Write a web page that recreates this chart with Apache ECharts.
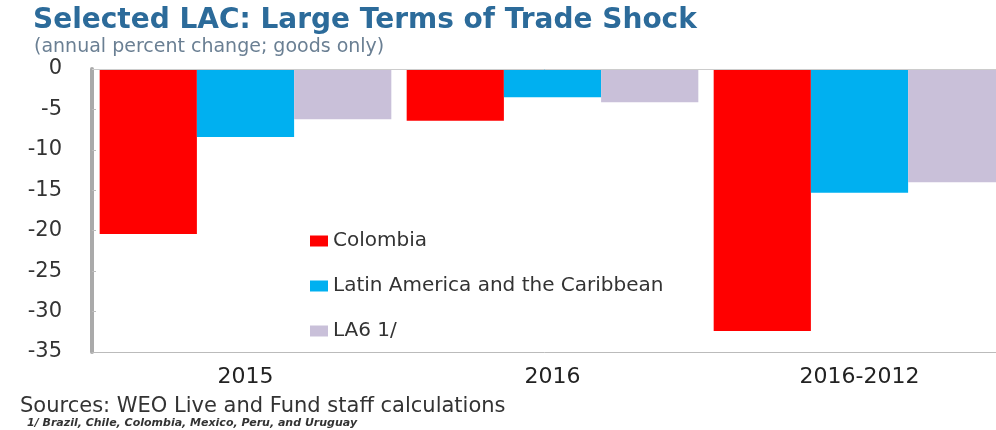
<!DOCTYPE html>
<html>
<head>
<meta charset="utf-8">
<script src="https://cdn.jsdelivr.net/npm/echarts@6/dist/echarts.min.js"></script>
<style>
  html, body { margin: 0; padding: 0; background: #fff; }
  #chart { width: 996px; height: 430px; }
</style>
</head>
<body>
<div id="chart"></div>
<script>
// categories and series values (annual percent change)
var categories = ['2015', '2016', '2016-2012'];
var colombia = [-20.4, -6.4, -32.4];
var lac = [-8.4, -3.5, -15.3];
var la6 = [-6.2, -4.1, -14.0];

var chart = echarts.init(document.getElementById('chart'));

chart.setOption({
  animation: false,
  textStyle: { fontFamily: 'DejaVu Sans' },
  title: [
    {
      text: 'Selected LAC: Large Terms of Trade Shock',
      left: 28, top: 2,
      textStyle: { fontSize: 28, fontWeight: 'bold', color: '#2c6b9a', fontFamily: 'DejaVu Sans' }
    },
    {
      text: '(annual percent change; goods only)',
      left: 29, top: 33,
      textStyle: { fontSize: 19, fontWeight: 'normal', color: '#6a7f93', fontFamily: 'DejaVu Sans' }
    },
    {
      text: 'Sources: WEO Live and Fund staff calculations',
      left: 15, top: 391,
      textStyle: { fontSize: 21, fontWeight: 'normal', color: '#333', fontFamily: 'DejaVu Sans' }
    },
    {
      text: '1/ Brazil, Chile, Colombia, Mexico, Peru, and Uruguay',
      left: 22, top: 413,
      textStyle: { fontSize: 11, fontWeight: 'bold', fontStyle: 'italic', color: '#333', fontFamily: 'DejaVu Sans' }
    }
  ],
  legend: {
    orient: 'vertical',
    left: 305, top: 226,
    itemGap: 25,
    itemWidth: 18, itemHeight: 11,
    icon: 'rect',
    textStyle: { fontSize: 20, color: '#333' },
    data: ['Colombia', 'Latin America and the Caribbean', 'LA6 1/']
  },
  grid: { left: 92, width: 921, top: 69, bottom: 78, outerBoundsMode: 'none' },
  xAxis: {
    type: 'category',
    data: categories,
    axisLine: { onZero: false, lineStyle: { color: '#bbb', width: 1 } },
    axisTick: { show: false },
    axisLabel: { fontSize: 22, color: '#222', margin: 14 }
  },
  yAxis: {
    type: 'value',
    min: -35, max: 0, interval: 5,
    axisLine: { show: true, lineStyle: { color: '#aaa', width: 4 } },
    axisTick: { show: true, inside: true, length: 4, lineStyle: { color: '#bbb' } },
    splitLine: { show: false },
    axisLabel: { fontSize: 21, color: '#333', margin: 30 }
  },
  series: [
    {
      name: 'Colombia', type: 'bar', data: colombia,
      itemStyle: { color: '#ff0000' },
      barGap: '0%', barCategoryGap: '5%'
    },
    {
      name: 'Latin America and the Caribbean', type: 'bar', data: lac,
      itemStyle: { color: '#00b0f0' }
    },
    {
      name: 'LA6 1/', type: 'bar', data: la6,
      itemStyle: { color: '#c9c0d9' },
      markLine: {
        silent: true, symbol: 'none', label: { show: false },
        lineStyle: { color: '#ccc', type: 'solid', width: 1 },
        data: [{ yAxis: 0 }]
      }
    }
  ]
});
</script>
</body>
</html>
